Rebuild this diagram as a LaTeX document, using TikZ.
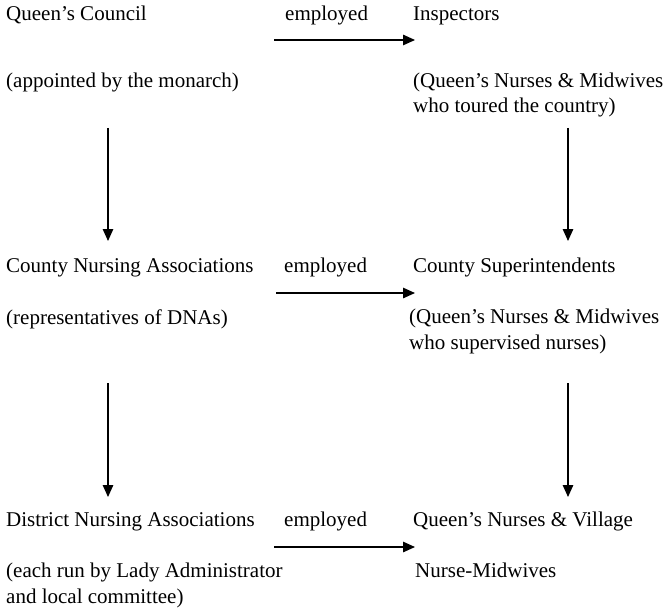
\documentclass[tikz,border=0pt]{standalone}
\usepackage{fontspec}
\setmainfont{Liberation Serif}
\usetikzlibrary{arrows.meta}

\begin{document}
\begin{tikzpicture}[
    x=1pt, y=-1pt,
    orgtext/.style={anchor=base west, inner sep=0pt, align=left,
                 font=\fontsize{21}{25.5}\selectfont},
    arr/.style={-{Triangle[length=12pt,width=10.5pt]}, line width=1.3pt}
  ]
  \useasboundingbox (0,0) rectangle (666,615);

  % top level (two-line notes are placed by their last line)
  \node[orgtext] (council) at (6,21) {Queen's Council};
  \node[orgtext] (councilnote) at (6,88) {(appointed by the monarch)};
  \node[orgtext] (emp1) at (285,21) {employed};
  \node[orgtext] (inspectors) at (413,21) {Inspectors};
  \node[orgtext] (inspnote) at (413,113) {(Queen's Nurses \& Midwives\\who toured the country)};

  % county level
  \node[orgtext] (cna) at (6,272) {County Nursing Associations};
  \node[orgtext] (cnanote) at (6,324) {(representatives of DNAs)};
  \node[orgtext] (emp2) at (284,272) {employed};
  \node[orgtext] (supers) at (413,272) {County Superintendents};
  \node[orgtext] (supnote) at (409,349) {(Queen's Nurses \& Midwives\\who supervised nurses)};

  % district level
  \node[orgtext] (dna) at (6,526) {District Nursing Associations};
  \node[orgtext] (dnanote) at (6,603) {(each run by Lady Administrator\\and local committee)};
  \node[orgtext] (emp3) at (284,526) {employed};
  \node[orgtext] (nurses) at (413,526) {Queen's Nurses \& Village};
  \node[orgtext] (nursenote) at (415,577) {Nurse-Midwives};

  % arrow ends
  \coordinate (h1a) at (274,40);  \coordinate (h1b) at (415,40);
  \coordinate (h2a) at (276,293); \coordinate (h2b) at (415,293);
  \coordinate (h3a) at (274,547); \coordinate (h3b) at (415,547);
  \coordinate (v1a) at (108,128); \coordinate (v1b) at (108,241);
  \coordinate (v2a) at (568,128); \coordinate (v2b) at (568,241);
  \coordinate (v3a) at (108,383); \coordinate (v3b) at (108,497);
  \coordinate (v4a) at (568,383); \coordinate (v4b) at (568,497);

  \draw[arr] (h1a) -- (h1b);
  \draw[arr] (h2a) -- (h2b);
  \draw[arr] (h3a) -- (h3b);
  \draw[arr] (v1a) -- (v1b);
  \draw[arr] (v2a) -- (v2b);
  \draw[arr] (v3a) -- (v3b);
  \draw[arr] (v4a) -- (v4b);

\end{tikzpicture}
\end{document}
